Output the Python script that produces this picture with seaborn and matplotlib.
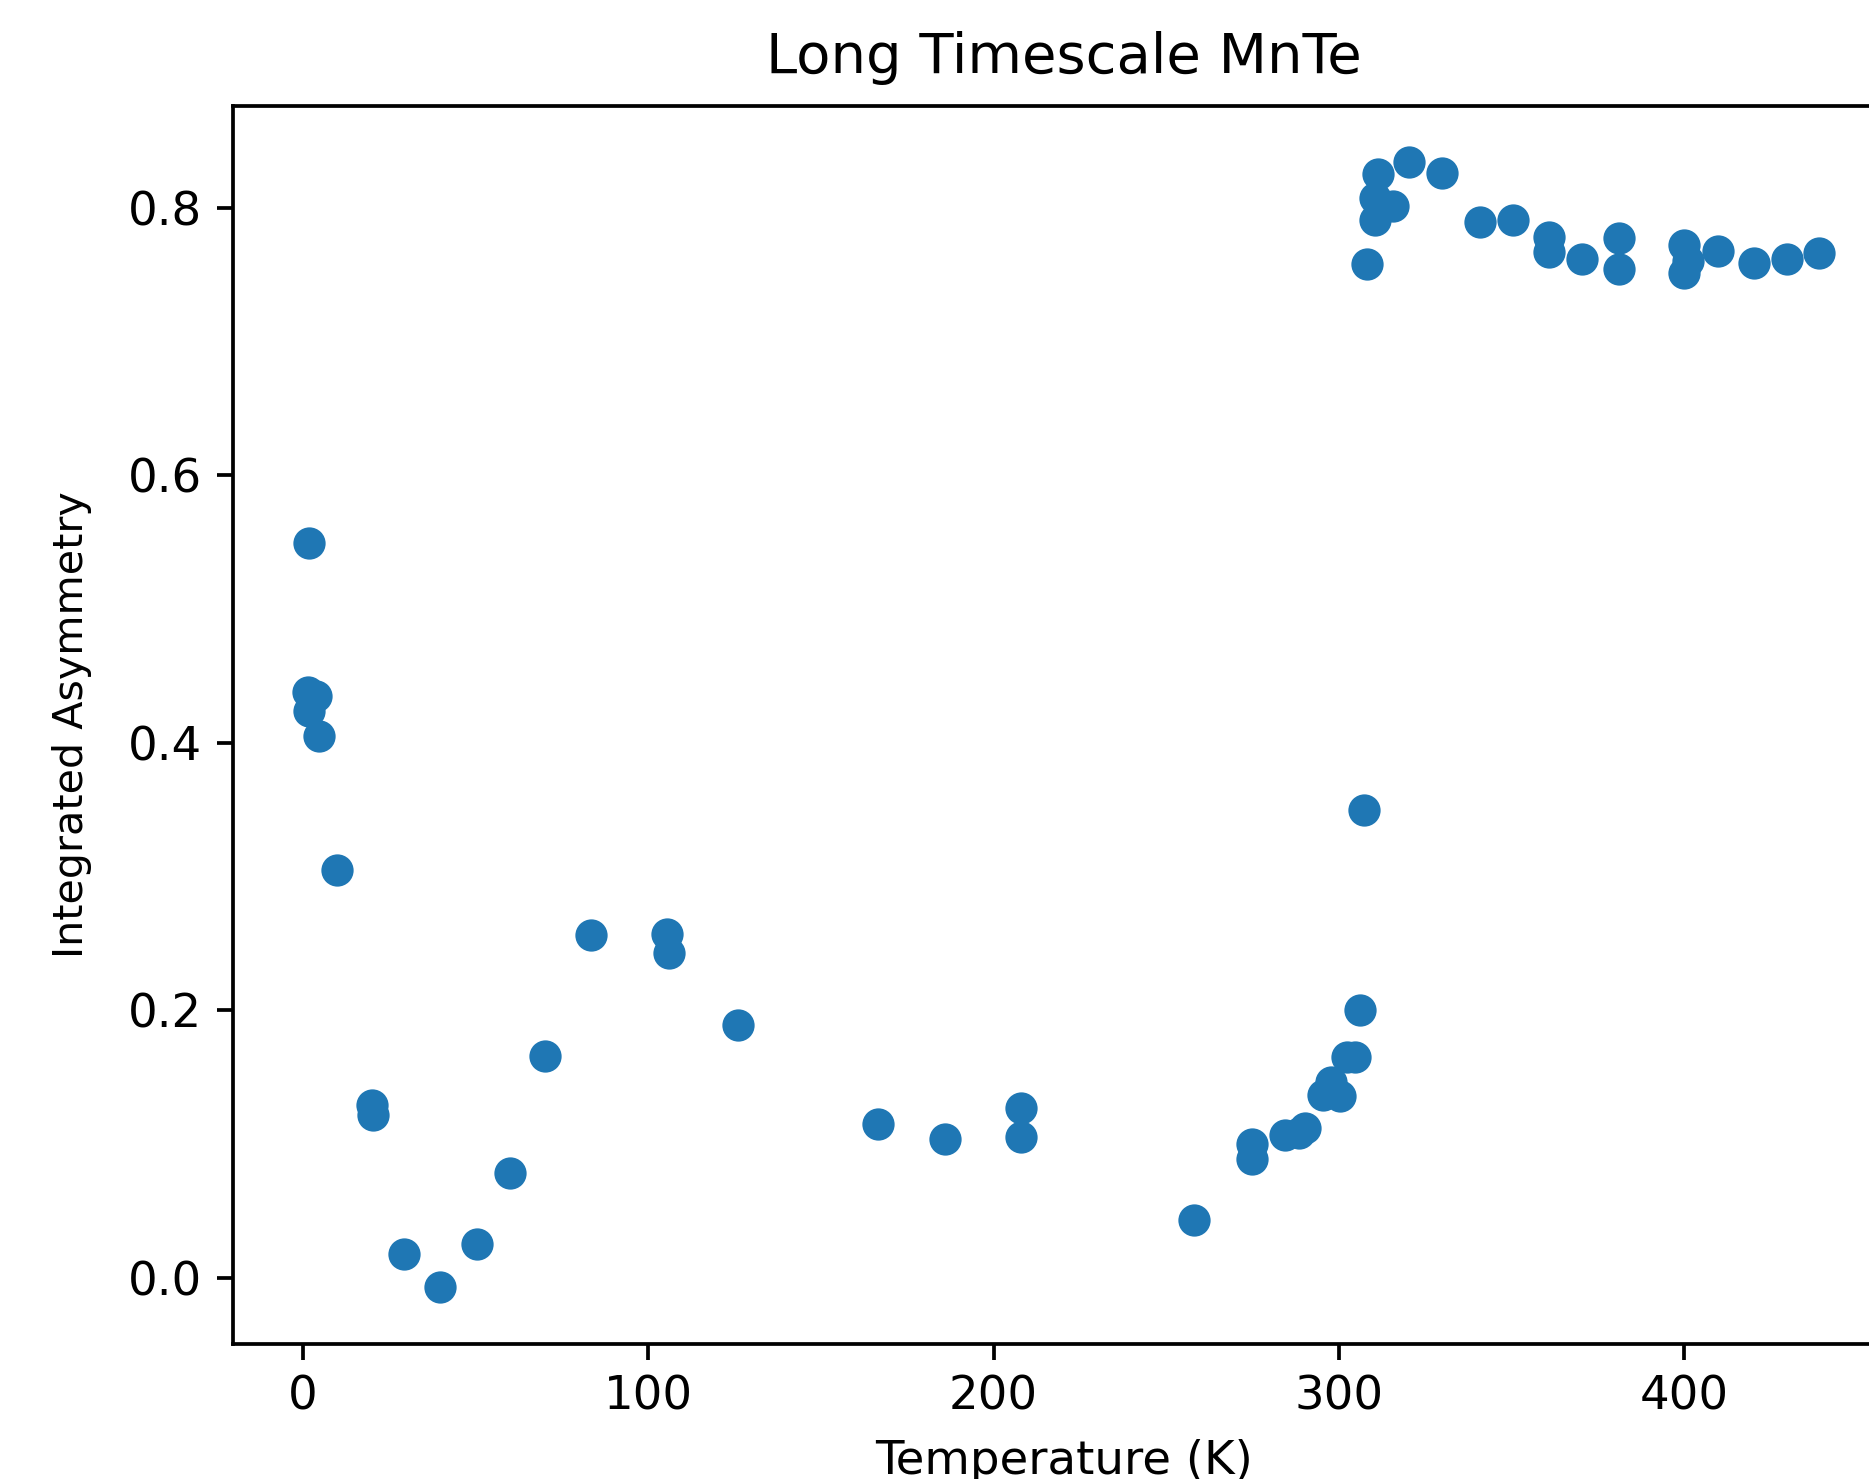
import matplotlib
matplotlib.use("Agg")
import matplotlib.pyplot as plt
import seaborn as sns
import pandas as pd

temperature = [1.7, 1.4, 3.8, 1.7, 4.8, 10.0, 20.0, 20.4, 29.3, 39.7,
               50.4, 60.0, 70.0, 83.5, 105.3, 106.0, 126.0, 166.4, 186.0, 208.0,
               208.0, 258.0, 274.7, 274.7, 284.4, 288.5, 290.0, 295.4, 297.8, 300.3,
               302.3, 304.7, 306.1, 307.2, 308.2, 310.3, 310.3, 311.3, 315.5, 320.3,
               329.9, 340.7, 350.5, 360.7, 360.7, 370.4, 381.0, 381.0, 399.8, 401.0,
               399.8, 409.6, 420.0, 429.6, 439.0]
asymmetry = [0.549, 0.438, 0.435, 0.424, 0.405, 0.305, 0.129, 0.122, 0.018, -0.007,
             0.025, 0.078, 0.166, 0.256, 0.257, 0.243, 0.189, 0.115, 0.104, 0.127,
             0.105, 0.043, 0.100, 0.089, 0.107, 0.108, 0.112, 0.137, 0.146, 0.136,
             0.165, 0.165, 0.200, 0.350, 0.758, 0.791, 0.807, 0.825, 0.801, 0.834,
             0.826, 0.789, 0.791, 0.778, 0.767, 0.762, 0.777, 0.754, 0.772, 0.760,
             0.751, 0.768, 0.759, 0.762, 0.766]

title = "Long Timescale MnTe"
xlabel = "Temperature (K)"
ylabel = "Integrated Asymmetry"

df = pd.DataFrame({"T": temperature, "A": asymmetry})

sns.set_style("ticks")
plt.rcParams['font.family'] = ['DejaVu Sans']
k = 1.12
plt.rcParams.update({
    "axes.linewidth": 0.8 * k,
    "xtick.major.width": 0.8 * k,
    "ytick.major.width": 0.8 * k,
    "xtick.major.size": 3.5 * k,
    "ytick.major.size": 3.5 * k,
    "xtick.color": "black", "ytick.color": "black",
    "axes.edgecolor": "black",
    "axes.labelcolor": "black",
    "text.color": "black",
})

fig = plt.figure(figsize=(1869 / 300, 1479 / 300), dpi=300)
ax = fig.add_axes([0.1247, 0.0913, 0.8893, 0.837])
sns.scatterplot(data=df, x="T", y="A", ax=ax, color="#1f77b4", s=60, linewidth=0)
ax.set_xlim(-20.2, 461)
ax.set_ylim(-0.0495, 0.876)
ax.set_xticks([0, 100, 200, 300, 400])
ax.set_yticks([0.0, 0.2, 0.4, 0.6, 0.8])
ax.tick_params(labelsize=10 * k)
ax.set_xlabel(xlabel, fontsize=10 * k, labelpad=4.5)
ax.set_ylabel(ylabel, fontsize=9.9, labelpad=8.5)
ax.set_title(title, fontsize=12 * k, pad=8)
fig.savefig("out.png", dpi=300)
